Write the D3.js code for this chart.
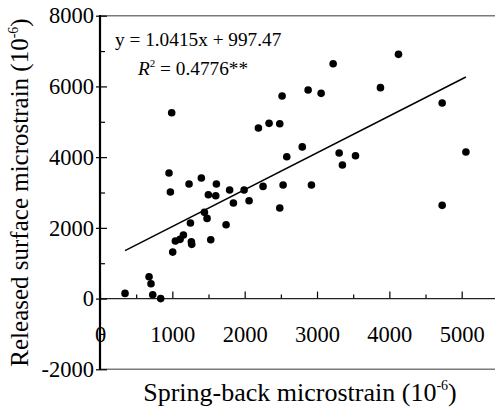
<!DOCTYPE html>
<html>
<head>
<meta charset="utf-8">
<script src="https://cdn.jsdelivr.net/npm/d3@7"></script>
<style>
  html, body { margin: 0; padding: 0; background: #fff; }
  svg { display: block; }
  svg text { font-family: "Liberation Serif", "Times New Roman", serif; }
</style>
</head>
<body>
<svg id="chart" width="495" height="410"></svg>
<script>
// ---- data ----
const springBack = [346, 678, 705, 729, 839, 954, 973, 991, 1005, 1042, 1107, 1153, 1231, 1250, 1263, 1268,
  1401, 1443, 1480, 1498, 1531, 1600, 1609, 1743, 1792, 1844, 1992, 2061, 2190, 2254, 2337, 2485, 2485,
  2517, 2531, 2582, 2796, 2877, 2923, 3057, 3223, 3306, 3351, 3532, 3877, 4126, 4730, 4730, 5058];
const released = [147, 617, 419, 107, 0, 3550, 3013, 5256, 1315, 1627, 1675, 1796, 3239, 2136, 1607, 1533,
  3409, 2438, 2268, 2937, 1663, 2909, 3239, 2088, 3069, 2701, 3069, 2767, 4823, 3173, 4955, 4946, 2560,
  5729, 3211, 4011, 4290, 5898, 3211, 5804, 6643, 4116, 3776, 4040, 5965, 6907, 5530, 2636, 4144];
const xMajorTicks = [0, 1000, 2000, 3000, 4000, 5000];
const xMinorTicks = [500, 1500, 2500, 3500, 4500];
const yMajorTicks = [-2000, 0, 2000, 4000, 6000, 8000];
const yMinorTicks = [-1000, 1000, 3000, 5000, 7000];
const slope = 1.0415, intercept = 997.47;
const eqText = "y = 1.0415x + 997.47";
const r2Value = "0.4776**";
const xTitle = "Spring-back microstrain (10";
const yTitle = "Released surface microstrain (10";

// ---- layout ----
const W = 495, H = 410;
const serif = '"Liberation Serif", "Times New Roman", serif';
const svg = d3.select("#chart");
const x = d3.scaleLinear().domain([0, 5000]).range([100, 461.7]);
const y = d3.scaleLinear().domain([-2000, 8000]).range([369.3, 15.7]);
const fontTick = 22.5;
const fmt = d => String(d);

// frame lines (top and bottom gray)
svg.append("line").attr("x1", x(0)).attr("x2", W).attr("y1", y(8000)).attr("y2", y(8000))
  .attr("stroke", "#7a7a7a").attr("stroke-width", 1.6);
svg.append("line").attr("x1", x(0)).attr("x2", W).attr("y1", y(-2000)).attr("y2", y(-2000))
  .attr("stroke", "#7a7a7a").attr("stroke-width", 1.6);

function styleAxis(g) {
  g.attr("font-family", null).attr("font-size", null);
  g.select(".domain").remove();
  g.selectAll(".tick line").attr("stroke", "#000").attr("stroke-width", 1.2);
  g.selectAll(".tick text").style("font-family", serif).style("font-size", fontTick + "px").attr("fill", "#000");
}

// x axis along y = 0
const gx = svg.append("g").attr("transform", `translate(0,${y(0)})`);
gx.call(d3.axisBottom(x).tickValues(xMajorTicks).tickSizeInner(-7).tickSizeOuter(0).tickPadding(27)
  .tickFormat(fmt));
styleAxis(gx);
const gxm = svg.append("g").attr("transform", `translate(0,${y(0)})`);
gxm.call(d3.axisBottom(x).tickValues(xMinorTicks).tickSizeInner(-4).tickSizeOuter(0).tickFormat(""));
styleAxis(gxm);
svg.append("line").attr("x1", x(0)).attr("x2", W).attr("y1", y(0)).attr("y2", y(0))
  .attr("stroke", "#222").attr("stroke-width", 1.4);

// y axis
const gy = svg.append("g").attr("transform", `translate(${x(0)},0)`);
gy.call(d3.axisLeft(y).tickValues(yMajorTicks).tickSizeInner(4).tickSizeOuter(0).tickPadding(2)
  .tickFormat(fmt));
styleAxis(gy);
const gyi = svg.append("g").attr("transform", `translate(${x(0)},0)`);
gyi.call(d3.axisRight(y).tickValues(yMajorTicks).tickSizeInner(7).tickSizeOuter(0).tickFormat(""));
styleAxis(gyi);
const gym = svg.append("g").attr("transform", `translate(${x(0)},0)`);
gym.call(d3.axisRight(y).tickValues(yMinorTicks).tickSizeInner(5).tickSizeOuter(0).tickFormat(""));
styleAxis(gym);
svg.append("line").attr("x1", x(0)).attr("x2", x(0)).attr("y1", y(8000) - 0.8).attr("y2", y(-2000) + 0.8)
  .attr("stroke", "#000").attr("stroke-width", 2.2);

// regression line
const xMin = d3.min(springBack), xMax = d3.max(springBack);
svg.append("line")
  .attr("x1", x(xMin)).attr("y1", y(slope * xMin + intercept))
  .attr("x2", x(xMax)).attr("y2", y(slope * xMax + intercept))
  .attr("stroke", "#000").attr("stroke-width", 1.5);

// points
svg.append("g").selectAll("circle").data(springBack).join("circle")
  .attr("cx", d => x(d)).attr("cy", (d, i) => y(released[i])).attr("r", 3.8).attr("fill", "#000");

// equation
svg.append("text").attr("x", 115).attr("y", 46).style("font-size", "19.3px").attr("fill", "#000").text(eqText);
const r2 = svg.append("text").attr("x", 138).attr("y", 75).style("font-size", "19.3px").attr("fill", "#000");
r2.append("tspan").attr("font-style", "italic").text("R");
r2.append("tspan").style("font-size", "11px").attr("dy", -8).text("2");
r2.append("tspan").attr("dy", 8).text(" = " + r2Value);

// axis titles
const xt = svg.append("text").attr("x", 300).attr("y", 401).attr("text-anchor", "middle")
  .style("font-size", "26px").attr("fill", "#000");
xt.append("tspan").text(xTitle);
xt.append("tspan").style("font-size", "14px").attr("dy", -11).text("-6");
xt.append("tspan").attr("dy", 11).text(")");

const yt = svg.append("text").attr("transform", `translate(28,192.5) rotate(-90)`).attr("text-anchor", "middle")
  .style("font-size", "25px").attr("fill", "#000");
yt.append("tspan").text(yTitle);
yt.append("tspan").style("font-size", "14px").attr("dy", -10).text("-6");
yt.append("tspan").attr("dy", 10).text(")");
</script>
</body>
</html>
